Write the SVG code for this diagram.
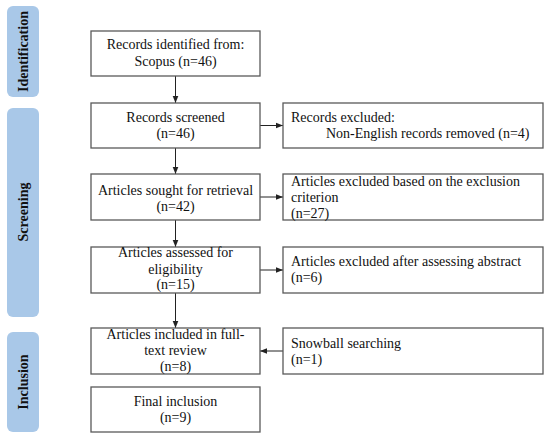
<svg xmlns="http://www.w3.org/2000/svg" width="550" height="439" viewBox="0 0 550 439">
<style>
.box{fill:#fff;stroke:#595959;stroke-width:1.3}
.side{fill:#a9c8e8;stroke:none}
.c{text-anchor:middle}
.ln{stroke:#222;stroke-width:1;fill:none;marker-end:url(#ah)}
</style>
<defs>
<marker id="ah" viewBox="0 0 10 10" refX="10" refY="5" markerWidth="7" markerHeight="7" orient="auto" markerUnits="userSpaceOnUse">
<path d="M0,1 L10,5 L0,9 z" fill="#222"/>
</marker>
</defs>
<rect width="550" height="439" fill="#fff"/>
<g font-family="Liberation Serif, Times New Roman, serif" font-size="14" font-weight="bold" fill="#111" text-anchor="middle">
<g id="phase-identification">
<rect class="side" x="7" y="6" width="32" height="91" rx="6"/>
<text transform="translate(28,51.5) rotate(-90)">Identification</text>
</g>
<g id="phase-screening">
<rect class="side" x="7" y="108" width="32" height="209" rx="6"/>
<text transform="translate(28,212) rotate(-90)">Screening</text>
</g>
<g id="phase-inclusion">
<rect class="side" x="7" y="332" width="32" height="100" rx="6"/>
<text transform="translate(28,382) rotate(-90)">Inclusion</text>
</g>
</g>
<g id="connectors">
<line class="ln" x1="175.5" y1="76" x2="175.5" y2="103"/>
<line class="ln" x1="175.5" y1="148" x2="175.5" y2="174"/>
<line class="ln" x1="175.5" y1="220" x2="175.5" y2="247"/>
<line class="ln" x1="175.5" y1="293" x2="175.5" y2="328"/>
<line class="ln" x1="260" y1="125.5" x2="283" y2="125.5"/>
<line class="ln" x1="260" y1="197" x2="283" y2="197"/>
<line class="ln" x1="260" y1="270" x2="283" y2="270"/>
<line class="ln" x1="283" y1="351" x2="260" y2="351"/>
</g>
<g font-family="Liberation Serif, Times New Roman, serif" font-size="14" fill="#111">
<g id="n1">
<rect class="box" x="91" y="31" width="169" height="45"/>
<text class="c" x="175.5" y="49">Records identified from:</text>
<text class="c" x="175.5" y="66">Scopus (n=46)</text>
</g>
<g id="n2">
<rect class="box" x="91" y="103" width="169" height="45"/>
<text class="c" x="175.5" y="122">Records screened</text>
<text class="c" x="175.5" y="138">(n=46)</text>
</g>
<g id="n3">
<rect class="box" x="91" y="174" width="169" height="46"/>
<text class="c" x="175.5" y="195">Articles sought for retrieval</text>
<text class="c" x="175.5" y="211">(n=42)</text>
</g>
<g id="n4">
<rect class="box" x="91" y="247" width="169" height="46"/>
<text class="c" x="175.5" y="257">Articles assessed for</text>
<text class="c" x="175.5" y="274">eligibility</text>
<text class="c" x="175.5" y="289">(n=15)</text>
</g>
<g id="n5">
<rect class="box" x="91" y="328" width="169" height="46"/>
<text class="c" x="175.5" y="339">Articles included in full-</text>
<text class="c" x="175.5" y="355">text review</text>
<text class="c" x="175.5" y="371">(n=8)</text>
</g>
<g id="n6">
<rect class="box" x="91" y="387" width="169" height="45"/>
<text class="c" x="175.5" y="406">Final inclusion</text>
<text class="c" x="175.5" y="422">(n=9)</text>
</g>
<g id="r1">
<rect class="box" x="283" y="103" width="260" height="45"/>
<text x="291" y="122">Records excluded:</text>
<text x="326" y="138">Non-English records removed (n=4)</text>
</g>
<g id="r2">
<rect class="box" x="283" y="174" width="260" height="46"/>
<text x="291" y="186">Articles excluded based on the exclusion</text>
<text x="291" y="202">criterion</text>
<text x="291" y="218">(n=27)</text>
</g>
<g id="r3">
<rect class="box" x="283" y="247" width="260" height="46"/>
<text x="291" y="266">Articles excluded after assessing abstract</text>
<text x="291" y="282">(n=6)</text>
</g>
<g id="r4">
<rect class="box" x="283" y="328" width="260" height="46"/>
<text x="291" y="348">Snowball searching</text>
<text x="291" y="364">(n=1)</text>
</g>
</g>
</svg>
